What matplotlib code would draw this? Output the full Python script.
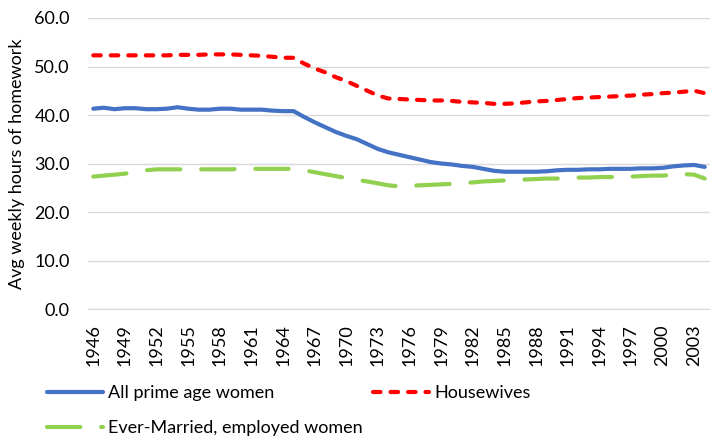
import matplotlib
matplotlib.use("Agg")
import matplotlib.pyplot as plt
import numpy as np

years = list(range(1946, 2005))
all_women = [41.3, 41.5, 41.2, 41.4, 41.4, 41.2, 41.2, 41.3, 41.6, 41.3,
             41.1, 41.1, 41.3, 41.3, 41.1, 41.1, 41.1, 40.9, 40.8, 40.8,
             39.6, 38.5, 37.5, 36.5, 35.7, 35.0, 34.0, 33.0, 32.3, 31.8,
             31.3, 30.8, 30.3, 30.0, 29.8, 29.5, 29.3, 28.9, 28.5, 28.3,
             28.3, 28.3, 28.3, 28.4, 28.6, 28.7, 28.7, 28.8, 28.8, 28.9,
             28.9, 28.9, 29.0, 29.0, 29.1, 29.4, 29.6, 29.7, 29.3]
housewives = [52.3, 52.3, 52.3, 52.3, 52.3, 52.3, 52.3, 52.3, 52.4, 52.4,
              52.4, 52.5, 52.5, 52.5, 52.4, 52.3, 52.2, 52.0, 51.8, 51.8,
              50.6, 49.6, 48.8, 47.8, 47.0, 46.0, 45.0, 44.0, 43.4, 43.3,
              43.2, 43.1, 43.0, 43.0, 42.9, 42.7, 42.6, 42.5, 42.3, 42.3,
              42.4, 42.6, 42.8, 42.9, 43.1, 43.3, 43.5, 43.6, 43.7, 43.8,
              43.9, 44.0, 44.2, 44.3, 44.5, 44.6, 44.8, 45.0, 44.5]
employed = [27.3, 27.5, 27.7, 27.9, 28.3, 28.6, 28.8, 28.8, 28.8, 28.8,
            28.8, 28.8, 28.8, 28.8, 28.9, 28.9, 28.9, 28.9, 28.9, 28.9,
            28.6, 28.2, 27.8, 27.4, 27.0, 26.6, 26.3, 25.9, 25.5, 25.3,
            25.4, 25.5, 25.6, 25.7, 25.8, 26.0, 26.1, 26.3, 26.4, 26.5,
            26.6, 26.7, 26.8, 26.9, 26.9, 27.0, 27.1, 27.1, 27.2, 27.2,
            27.3, 27.3, 27.4, 27.5, 27.5, 27.7, 27.8, 27.7, 26.9]
series_names = ["All prime age women", "Housewives", "Ever-Married, employed women"]

plt.rcParams['font.family'] = ['Lato', 'DejaVu Sans']
FS = 13

W, H = 712, 437
fig = plt.figure(figsize=(W/100, H/100), dpi=100)
ax = fig.add_axes([88/W, 1 - 309/H, 622/W, (309-18)/H])

x = np.arange(len(years))
l1, = ax.plot(x, all_women, color="#4472C4", lw=3.0, solid_capstyle="round", label=series_names[0])
l2, = ax.plot(x, housewives, color="#FF0000", lw=3.0, dashes=(1.8, 2.4), dash_capstyle="round", label=series_names[1])
l3, = ax.plot(x, employed, color="#92D050", lw=3.0, dashes=(8, 5), dash_capstyle="round", label=series_names[2])

ax.set_xlim(-0.5, len(years) - 0.5)
ax.set_ylim(0, 60)
ax.set_yticks(np.arange(0, 61, 10))
ax.set_yticklabels([f"{v:.1f}" for v in np.arange(0, 61, 10)], fontsize=FS)
tick_idx = x[::3]
ax.set_xticks(tick_idx)
ax.set_xticklabels([str(years[i]) for i in tick_idx], rotation=90, fontsize=FS)
ax.tick_params(axis="y", length=0, pad=13)
ax.tick_params(axis="x", length=0, pad=11)
ax.grid(axis="y", color="#D9D9D9", lw=1)
ax.set_axisbelow(True)
for s in ["top", "right", "left"]:
    ax.spines[s].set_visible(False)
ax.spines["bottom"].set_color("#D9D9D9")
ax.set_ylabel("Avg weekly hours of homework", fontsize=FS, labelpad=7)

common = dict(loc="center left", frameon=False, fontsize=FS, handlelength=3.1,
              handletextpad=0.3, borderpad=0, borderaxespad=0)
lg1 = fig.legend(handles=[l1], bbox_to_anchor=(47/W, 1 - 393/H), **common)
lg2 = fig.legend(handles=[l2], bbox_to_anchor=(373/W, 1 - 393/H), **common)
lg3 = fig.legend(handles=[l3], bbox_to_anchor=(47/W, 1 - 428/H), **common)

fig.savefig("out.png", dpi=100)
